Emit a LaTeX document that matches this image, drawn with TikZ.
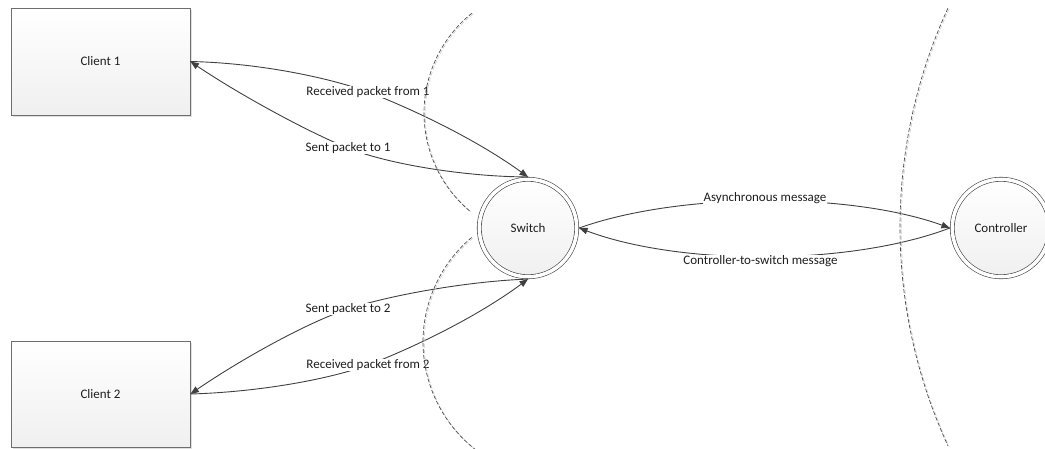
\documentclass[tikz,border=0pt]{standalone}
\usepackage{fontspec}
\setmainfont{Carlito}
\usetikzlibrary{arrows.meta,shadows}
\definecolor{ink}{HTML}{404040}
\definecolor{txt}{HTML}{1E1E1E}
\definecolor{rim}{HTML}{6E6E6E}
\definecolor{fenceclr}{HTML}{474747}
\tikzset{
  client/.style={draw=rim, line width=0.8pt, top color=white, bottom color=black!6,
    minimum width=179pt, minimum height=107pt, text=txt,
    drop shadow={shadow xshift=2pt, shadow yshift=-2pt, opacity=0.2, fill=black!60}},
  station/.style={circle, draw=ink, line width=0.6pt, double=white, double distance=3.5pt,
    top color=white, bottom color=black!6, minimum size=97.5pt, inner sep=0pt,
    outer sep=2.35pt, text=txt,
    drop shadow={shadow xshift=1.5pt, shadow yshift=-1.5pt, opacity=0.18, fill=black!60}},
  conn/.style={draw=ink, line width=0.9pt, -{Triangle[length=8.5pt,width=6.5pt]}},
  lab/.style={fill=white, inner xsep=0.5pt, inner ysep=0.5pt, text=txt},
  fence/.style={draw=fenceclr, line width=0.65pt, dash pattern=on 4pt off 2pt},
  fenceshade/.style={draw=black!20, line width=0.6pt, dash pattern=on 4pt off 2pt,
    xshift=1.2pt, yshift=-0.8pt}
}
\begin{document}
\begin{tikzpicture}[x=1pt, y=-1pt, font=\fontsize{13}{15.6}\selectfont]
\useasboundingbox (0,0) rectangle (1045,448);
\clip (0,0) rectangle (1045,448);

% end points of the exchange
\node[client] (c1) at (100.5,61.5) {Client 1};
\node[client, minimum height=106pt] (c2) at (100.5,394) {Client 2};
\node[station] (sw) at (528,228) {Switch};
\node[station] (ctl) at (1001,228) {Controller};

% label anchors on the curved connectors
\coordinate (rx1) at (368,92);
\coordinate (tx1) at (348,148);
\coordinate (tx2) at (348,309);
\coordinate (rx2) at (368,365);

% client 1 <-> switch
\draw[conn] (c1.east) .. controls (260,63) and (330,78) .. (rx1)
  .. controls (400,104) and (470,135) .. (sw.north);
\draw[conn] (sw.north) .. controls (470,177) and (390,165) .. (tx1)
  .. controls (310,133) and (240,95) .. (c1.east);

% client 2 <-> switch
\draw[conn] (sw.south) .. controls (470,281) and (390,295) .. (tx2)
  .. controls (306,323) and (240,360) .. (c2.east);
\draw[conn] (c2.east) .. controls (260,392) and (330,379) .. (rx2)
  .. controls (400,353) and (470,322) .. (sw.south);

% switch <-> controller
\draw[conn] (sw.east) .. controls (680,192) and (850,192) .. (ctl.west);
\draw[conn] (ctl.west) .. controls (850,266) and (680,266) .. (sw.east);

% connector labels
\node[lab] (lrx1) at (rx1) {Received packet from 1};
\node[lab] (ltx1) at (tx1) {Sent packet to 1};
\node[lab] (ltx2) at (tx2) {Sent packet to 2};
\node[lab] (lrx2) at (rx2) {Received packet from 2};
\node[lab] (lasync) at (765,198) {Asynchronous message};
\node[lab] (lcts) at (760.5,261) {Controller-to-switch message};

% dashed boundaries
\draw[fenceshade] (552,113) ++(231.3:128) arc[start angle=231.3, end angle=129.4, radius=128];
\draw[fence] (552,113) ++(231.3:128) arc[start angle=231.3, end angle=129.4, radius=128];
\draw[fenceshade] (559.7,342) ++(229.9:136.7) arc[start angle=229.9, end angle=120.3, radius=136.7];
\draw[fence] (559.7,342) ++(229.9:136.7) arc[start angle=229.9, end angle=120.3, radius=136.7];
\draw[fenceshade] (1423.6,227) ++(204.7:523.6) arc[start angle=204.7, end angle=155.3, radius=523.6];
\draw[fence] (1423.6,227) ++(204.7:523.6) arc[start angle=204.7, end angle=155.3, radius=523.6];
\end{tikzpicture}
\end{document}
